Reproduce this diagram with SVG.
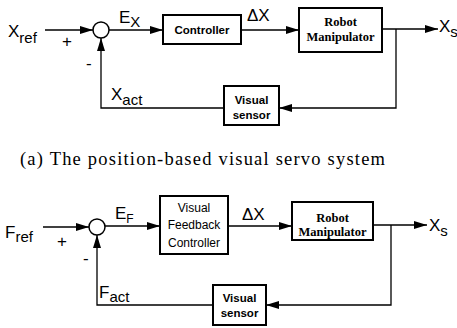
<svg xmlns="http://www.w3.org/2000/svg" width="457" height="328" viewBox="0 0 457 328">
<defs>
<marker id="ah" markerUnits="userSpaceOnUse" markerWidth="14" markerHeight="10" refX="13" refY="5" orient="auto">
<path d="M0,1 L13,5 L0,9 Z" fill="#000"/>
</marker>
<style>
.box{fill:#fff;stroke:#000;stroke-width:2}
.ln{fill:none;stroke:#000;stroke-width:1.3}
.sb{font-family:"Liberation Sans",Arial,sans-serif;font-weight:bold;font-size:11.5px;text-anchor:middle}
.rb{font-family:"Liberation Serif","Times New Roman",serif;font-weight:bold;font-size:12.5px;text-anchor:middle}
.vf{font-family:"Liberation Sans",Arial,sans-serif;font-size:12px;text-anchor:middle}
.lb{font-family:"Liberation Sans",Arial,sans-serif;font-size:17px}
.sub{font-size:15px}
.cap{font-family:"Liberation Serif","Times New Roman",serif;font-size:18.5px}
</style>
</defs>
<rect width="457" height="328" fill="#fff"/>

<g id="connectors">
<line class="ln" x1="45" y1="30" x2="93" y2="30" marker-end="url(#ah)"/>
<line class="ln" x1="109" y1="30" x2="163" y2="30" marker-end="url(#ah)"/>
<line class="ln" x1="241" y1="30" x2="299" y2="30" marker-end="url(#ah)"/>
<line class="ln" x1="382" y1="29" x2="438" y2="29" marker-end="url(#ah)"/>
<polyline class="ln" points="396,29 396,108 279,108" marker-end="url(#ah)"/>
<polyline class="ln" points="224,108 101,108 101,38" marker-end="url(#ah)"/>

<line class="ln" x1="43" y1="227" x2="89" y2="227" marker-end="url(#ah)"/>
<line class="ln" x1="105" y1="226" x2="160" y2="226" marker-end="url(#ah)"/>
<line class="ln" x1="228" y1="226" x2="292" y2="226" marker-end="url(#ah)"/>
<line class="ln" x1="373" y1="225" x2="427" y2="225" marker-end="url(#ah)"/>
<polyline class="ln" points="391,225 391,305 266,305" marker-end="url(#ah)"/>
<polyline class="ln" points="213,305 97,305 97,235" marker-end="url(#ah)"/>
</g>

<g id="sum1"><circle cx="101" cy="30" r="8" fill="#fff" stroke="#000" stroke-width="1.5"/></g>
<g id="controller">
<rect class="box" x="163" y="15" width="78" height="29"/>
<text class="sb" x="202" y="34">Controller</text>
</g>
<g id="robot1">
<rect class="box" x="299" y="8" width="83" height="44"/>
<text class="rb" x="340.5" y="26">Robot</text>
<text class="rb" x="340.5" y="41">Manipulator</text>
</g>
<g id="sensor1">
<rect class="box" x="224" y="86" width="55" height="39"/>
<text class="sb" x="251.5" y="104" font-size="10.5">Visual</text>
<text class="sb" x="251.5" y="119" font-size="10.5">sensor</text>
</g>

<g id="labels1">
<text class="lb" x="8" y="37">X<tspan class="sub" dy="6">ref</tspan></text>
<text class="lb" x="62" y="47" font-size="15">+</text>
<text class="lb" x="86" y="69" font-size="14">-</text>
<text class="lb" x="119" y="23" font-size="16">E<tspan class="sub" dy="4">X</tspan></text>
<text class="lb" x="247" y="21" font-size="16">ΔX</text>
<text class="lb" x="439" y="32">X<tspan class="sub" dy="5">s</tspan></text>
<text class="lb" x="111" y="100">X<tspan class="sub" dy="5">act</tspan></text>
</g>

<text class="cap" x="20" y="165" textLength="365" lengthAdjust="spacing">(a) The position-based visual servo system</text>

<g id="sum2"><circle cx="97" cy="227" r="8" fill="#fff" stroke="#000" stroke-width="1.5"/></g>
<g id="vfc">
<rect class="box" x="160" y="196" width="68" height="58"/>
<text class="vf" x="194" y="212">Visual</text>
<text class="vf" x="194" y="229">Feedback</text>
<text class="vf" x="194" y="247">Controller</text>
</g>
<g id="robot2">
<rect class="box" x="292" y="202" width="81" height="38"/>
<text class="rb" x="332.5" y="222">Robot</text>
<text class="rb" x="332.5" y="236">Manipulator</text>
</g>
<g id="sensor2">
<rect class="box" x="213" y="285" width="53" height="40"/>
<text class="sb" x="239.5" y="302" font-size="10.5">Visual</text>
<text class="sb" x="239.5" y="317" font-size="10.5">sensor</text>
</g>

<g id="labels2">
<text class="lb" x="5" y="238">F<tspan class="sub" dy="4">ref</tspan></text>
<text class="lb" x="57" y="247" font-size="15">+</text>
<text class="lb" x="83" y="264" font-size="14">-</text>
<text class="lb" x="115" y="219" font-size="15">E<tspan font-size="12" dy="4">F</tspan></text>
<text class="lb" x="242" y="220" font-size="16">ΔX</text>
<text class="lb" x="429" y="231">X<tspan class="sub" dy="5">s</tspan></text>
<text class="lb" x="99" y="298">F<tspan class="sub" dy="4">act</tspan></text>
</g>
</svg>
